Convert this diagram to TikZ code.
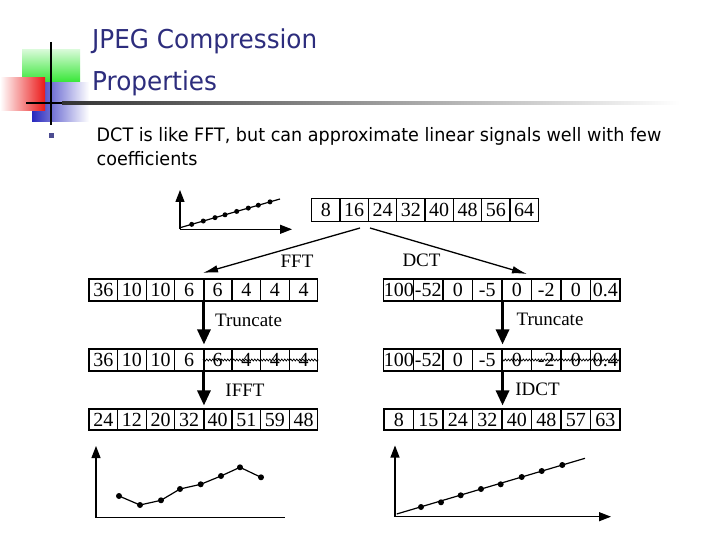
\documentclass[tikz,border=0pt]{standalone}
\usepackage{fontspec}
\usetikzlibrary{arrows.meta,decorations.pathmorphing,calc}
\newfontfamily\tahf[FakeStretch=0.95]{DejaVu Sans}
\newfontfamily\serf{Liberation Serif}
\definecolor{titleblue}{RGB}{45,45,125}
\definecolor{logogreen}{RGB}{50,230,50}
\definecolor{logored}{RGB}{235,25,25}
\definecolor{logoblue}{RGB}{40,40,190}
\tikzset{
  cell/.style={draw, line width=1.1pt, minimum height=22pt, inner sep=0pt, text height=13.5pt, text depth=0pt, font=\serf\fontsize{20}{20}\selectfont},
  lab/.style={font=\serf\fontsize{19}{19}\selectfont, inner sep=0pt},
  bigarrow/.style={line width=3pt, -{Triangle[length=15pt,width=13pt]}},
  diagarrow/.style={line width=1.3pt, -{Latex[length=15pt,width=7.5pt]}},
  axisline/.style={line width=1.2pt},
  axisarrow/.style={line width=1.2pt, -{Triangle[length=12pt,width=9pt]}},
  gdot/.style={circle, fill, inner sep=0pt, minimum size=6pt},
  divider/.style={line width=2.4pt},
  strike/.style={line width=0.7pt, decorate, decoration={snake, amplitude=1pt, segment length=3pt}}
}
\begin{document}
\begin{tikzpicture}[x=1pt,y=-1pt]
\useasboundingbox (0,0) rectangle (720,540);
\fill[white] (0,0) rectangle (720,540);

% logo
\shade[top color=logogreen!20!white, bottom color=logogreen] (22,50) rectangle (80,83);
\shade[left color=logoblue, right color=white] (32,83) rectangle (89,122);
\shade[left color=white, right color=logored] (0,78) rectangle (45,111);
\fill[black] (26,101.8) rectangle (62,104.2);
\shade[left color=black!80, right color=white] (62,101.8) rectangle (680,104.2);
\draw[line width=2.2pt] (51,42) -- (51,125);

% title
\node[anchor=base west, inner sep=0pt, text=titleblue, font=\tahf\fontsize{26}{26}\selectfont] (title1) at (92,48.5) {JPEG Compression};
\node[anchor=base west, inner sep=0pt, text=titleblue, font=\tahf\fontsize{26}{26}\selectfont] (title2) at (92,91) {Properties};

% bullet
\fill[titleblue!85] (48.5,133) rectangle (53.5,138.2);
\node[anchor=base west, inner sep=0pt, font=\tahf\fontsize{18.5}{18.5}\selectfont] (body1) at (96.5,141.5) {DCT is like FFT, but can approximate linear signals well with few};
\node[anchor=base west, inner sep=0pt, font=\tahf\fontsize{18.5}{18.5}\selectfont] (body2) at (96.5,166) {coefficients};

% top array
\foreach \v [count=\i] in {8,16,24,32,40,48,56,64}
  \node[cell, minimum width=28.33pt, minimum height=23.4pt] (t\i) at ({311.7+28.33*(\i-0.5)},210) {\v};

% left arrays
\foreach \v [count=\i] in {36,10,10,6,6,4,4,4}
  \node[cell, minimum width=28.6pt] (la\i) at ({89+28.6*(\i-0.5)},290) {\v};
\foreach \v [count=\i] in {36,10,10,6,6,4,4,4}
  \node[cell, minimum width=28.6pt] (lb\i) at ({89+28.6*(\i-0.5)},360) {\v};
\foreach \v [count=\i] in {24,12,20,32,40,51,59,48}
  \node[cell, minimum width=28.6pt, minimum height=21pt] (lc\i) at ({89+28.6*(\i-0.5)},419.5) {\v};
\draw[divider] (la4.north east) -- (la4.south east);
\draw[divider] (lb4.north east) -- (lb4.south east);
\draw[divider] (lc4.north east) -- (lc4.south east);
\draw[strike] (lb5.west) -- (lb8.east);

% right arrays
\foreach \v [count=\i] in {100,-52,0,-5,0,-2,0,0.4}
  \node[cell, minimum width=29.5pt] (ra\i) at ({384+29.5*(\i-0.5)},290) {\v};
\foreach \v [count=\i] in {100,-52,0,-5,0,-2,0,0.4}
  \node[cell, minimum width=29.5pt] (rb\i) at ({384+29.5*(\i-0.5)},360) {\v};
\foreach \v [count=\i] in {8,15,24,32,40,48,57,63}
  \node[cell, minimum width=29.5pt, minimum height=21pt] (rc\i) at ({384+29.5*(\i-0.5)},419.5) {\v};
\draw[strike] (rb5.west) -- (rb8.east);

% diagonal arrows
\coordinate (fftS) at (360,228);
\coordinate (dctS) at (370,228);
\coordinate (fftT) at (203,273);
\coordinate (dctT) at (527,274);
\draw[diagarrow] (fftS) -- (fftT);
\draw[diagarrow] (dctS) -- (dctT);
\node[lab] (fftlab) at (297,261.5) {FFT};
\node[lab] (dctlab) at (421.5,260.5) {DCT};

% vertical arrows
\draw[bigarrow] (la4.south east) -- ($(lb4.north east)+(0,-4)$);
\draw[bigarrow] (lb4.south east) -- ($(lc4.north east)+(0,-3)$);
\draw[bigarrow] (ra4.south east) -- ($(rb4.north east)+(0,-4)$);
\draw[bigarrow] (rb4.south east) -- ($(rc4.north east)+(0,-3)$);
\node[lab] (ltr) at (248.5,320) {Truncate};
\node[lab] (lif) at (245,390) {IFFT};
\node[lab] (rtr) at (550,319) {Truncate};
\node[lab] (rid) at (537.5,389) {IDCT};

% top graph
\draw[axisarrow] (180,229.3) -- (180,190);
\draw[axisarrow] (180,229.3) -- (292,229.3);
\draw[line width=1.2pt] (180,227.7) -- (280,199);
\foreach \x in {191.7,203.3,215,225,236.7,248.3,258.3,270}
  \node[gdot, minimum size=5pt] at (\x,{227.7-(\x-180)*0.287}) {};

% bottom left graph
\draw[axisarrow] (96,517.7) -- (96,446);
\draw[axisline] (96,517.7) -- (285,517.7);
\draw[line width=1.2pt] (119,496) -- (140,505) -- (161,500.3) -- (180,489) -- (200.7,484.3) -- (221,476) -- (240,467.3) -- (261,477.3);
\foreach \p in {(119,496),(140,505),(161,500.3),(180,489),(200.7,484.3),(221,476),(240,467.3),(261,477.3)}
  \node[gdot] at \p {};

% bottom right graph
\draw[axisarrow] (395,516.7) -- (395,445.5);
\draw[axisarrow] (395,516.7) -- (611,516.7);
\draw[line width=1.2pt] (396.7,514) -- (585,458.3);
\foreach \p in {(421,507),(441,502.3),(460.7,495.3),(481,489),(500.7,484.3),(521.7,477),(541.7,471),(562.3,465)}
  \node[gdot] at \p {};
\end{tikzpicture}
\end{document}
